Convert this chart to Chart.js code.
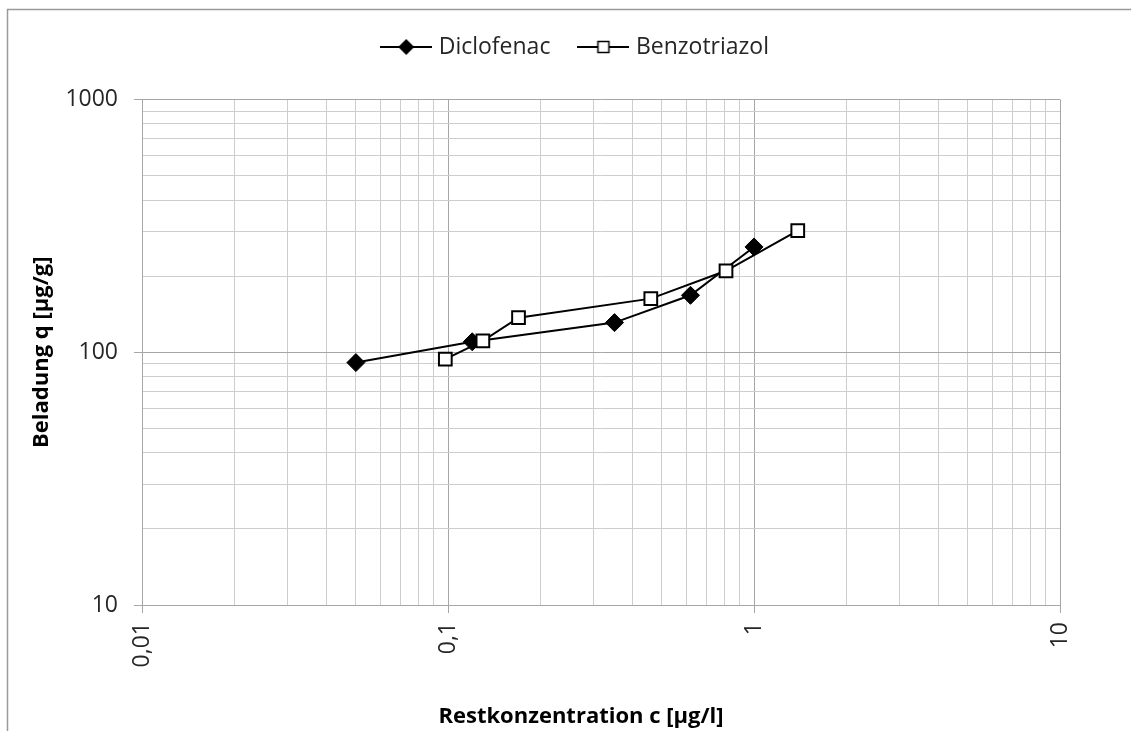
<!DOCTYPE html>
<html>
<head>
<meta charset="utf-8">
<script src="https://cdn.jsdelivr.net/npm/chart.js@4"></script>
<style>
  html, body { margin: 0; padding: 0; background: #fff; }
</style>
</head>
<body>
<canvas id="isotherme" width="1131" height="731"></canvas>
<script>
const diclofenacC = [0.05, 0.12, 0.35, 0.62, 1.0];
const diclofenacQ = [91, 110, 131, 168, 261];
const benzotriazolC = [0.098, 0.13, 0.17, 0.46, 0.81, 1.39];
const benzotriazolQ = [94, 111, 137, 163, 210, 303];

// Achsen: Gitterlinien und Beschriftungen
const xGridValues = [0.01, 0.02, 0.03, 0.04, 0.05, 0.06, 0.07, 0.08, 0.09,
                     0.1, 0.2, 0.3, 0.4, 0.5, 0.6, 0.7, 0.8, 0.9,
                     1, 2, 3, 4, 5, 6, 7, 8, 9, 10];
const yGridValues = [10, 20, 30, 40, 50, 60, 70, 80, 90,
                     100, 200, 300, 400, 500, 600, 700, 800, 900, 1000];
const xTickValues = [0.01, 0.1, 1, 10];
const xTickLabels = ["0,01", "0,1", "1", "10"];
const yTickValues = [10, 100, 1000];
const yTickLabels = ["10", "100", "1000"];

const FONT = "'Open Sans', 'Noto Sans', sans-serif";
const MAJOR = "#a6a6a6";
const MINOR = "#cdcdcd";
const NB = "\u00a0";

function toPoints(xs, ys) {
    return xs.map((x, i) => ({ x: x, y: ys[i] }));
}

// Legendensymbol: Linie mit Marker
function legendIcon(marker) {
    const c = document.createElement("canvas");
    c.width = 52;
    c.height = 22;
    const g = c.getContext("2d");
    g.strokeStyle = "#000";
    g.lineWidth = 2;
    g.beginPath();
    g.moveTo(0, 11);
    g.lineTo(52, 11);
    g.stroke();
    if (marker === "diamond") {
        g.fillStyle = "#000";
        g.beginPath();
        g.moveTo(18, 11);
        g.lineTo(26, 3);
        g.lineTo(34, 11);
        g.lineTo(26, 19);
        g.closePath();
        g.fill();
    } else {
        g.fillStyle = "#fff";
        g.fillRect(20.5, 5.5, 11, 11);
        g.lineWidth = 1.5;
        g.strokeRect(20.5, 5.5, 11, 11);
    }
    return c;
}

// Rahmen um das Diagramm
const framePlugin = {
    id: "frame",
    beforeDraw(chart) {
        const ctx = chart.ctx;
        ctx.save();
        ctx.strokeStyle = "#9a9a9a";
        ctx.lineWidth = 1.5;
        ctx.beginPath();
        ctx.moveTo(7.5, 731);
        ctx.lineTo(7.5, 9.5);
        ctx.lineTo(1131, 9.5);
        ctx.stroke();
        ctx.restore();
    }
};

function gridColor(ticks) {
    return ctx => (ctx.tick && ticks.includes(ctx.tick.value)) ? MAJOR : MINOR;
}
function tickMarkColor(ticks) {
    return ctx => (ctx.tick && ticks.includes(ctx.tick.value)) ? MAJOR : "rgba(0,0,0,0)";
}

new Chart(document.getElementById("isotherme"), {
    type: "line",
    data: {
        datasets: [{
            label: "Diclofenac",
            data: toPoints(diclofenacC, diclofenacQ),
            borderColor: "#000",
            borderWidth: 2,
            pointStyle: "rectRot",
            pointRadius: 9,
            pointBackgroundColor: "#000",
            pointBorderColor: "#000",
            pointBorderWidth: 1,
            order: 2
        }, {
            label: "Benzotriazol",
            data: toPoints(benzotriazolC, benzotriazolQ),
            borderColor: "#000",
            borderWidth: 2,
            pointStyle: "rect",
            pointRadius: 9,
            pointBackgroundColor: "#fff",
            pointBorderColor: "#000",
            pointBorderWidth: 2,
            order: 1
        }]
    },
    options: {
        responsive: false,
        animation: false,
        layout: { padding: { left: 0, right: 71, top: 3.5, bottom: 0 } },
        plugins: {
            legend: {
                position: "top",
                fullSize: false,
                labels: {
                    usePointStyle: true,
                    pointStyleWidth: 42,
                    padding: 32,
                    color: "#262626",
                    font: { family: FONT, size: 23 },
                    generateLabels: () => [
                        { text: "Diclofenac", pointStyle: legendIcon("diamond"), lineWidth: 0, datasetIndex: 0, fontColor: "#262626" },
                        { text: "Benzotriazol" + NB.repeat(8), pointStyle: legendIcon("square"), lineWidth: 0, datasetIndex: 1, fontColor: "#262626" }
                    ]
                }
            },
            // nur Abstandhalter zwischen Legende und Diagrammfläche
            title: {
                display: true,
                text: "",
                weight: 500,
                font: { size: 10 },
                padding: { top: 0, bottom: 19 }
            },
            tooltip: { enabled: false }
        },
        scales: {
            x: {
                type: "logarithmic",
                min: 0.01,
                max: 10,
                afterBuildTicks: s => { s.ticks = xGridValues.map(v => ({ value: v })); },
                afterFit: s => { s.height = 126; },
                ticks: {
                    autoSkip: false,
                    minRotation: 90,
                    maxRotation: 90,
                    padding: 9,
                    color: "#262626",
                    font: { family: FONT, size: 23 },
                    callback: v => {
                        const i = xTickValues.indexOf(v);
                        return i >= 0 ? xTickLabels[i] : "";
                    }
                },
                grid: {
                    color: gridColor(xTickValues),
                    tickColor: tickMarkColor(xTickValues),
                    tickLength: 8,
                    lineWidth: 1
                },
                border: { color: MAJOR },
                title: {
                    display: true,
                    text: "Restkonzentration c [µg/l]" + NB.repeat(7),
                    color: "#000",
                    font: { family: FONT, size: 22, weight: "bold" },
                    padding: { top: 0, bottom: 1 }
                }
            },
            y: {
                type: "logarithmic",
                min: 10,
                max: 1000,
                afterBuildTicks: s => { s.ticks = yGridValues.map(v => ({ value: v })); },
                afterFit: s => { s.width = 142; },
                ticks: {
                    autoSkip: false,
                    padding: 16,
                    color: "#262626",
                    font: { family: FONT, size: 23 },
                    callback: v => {
                        const i = yTickValues.indexOf(v);
                        return i >= 0 ? yTickLabels[i] : "";
                    }
                },
                grid: {
                    color: gridColor(yTickValues),
                    tickColor: tickMarkColor(yTickValues),
                    tickLength: 8,
                    lineWidth: 1
                },
                border: { color: MAJOR },
                title: {
                    display: true,
                    text: "Beladung q [µg/g]",
                    color: "#000",
                    font: { family: FONT, size: 22, weight: "bold" },
                    padding: { top: 29, bottom: 0 }
                }
            }
        }
    },
    plugins: [framePlugin]
});
</script>
</body>
</html>
